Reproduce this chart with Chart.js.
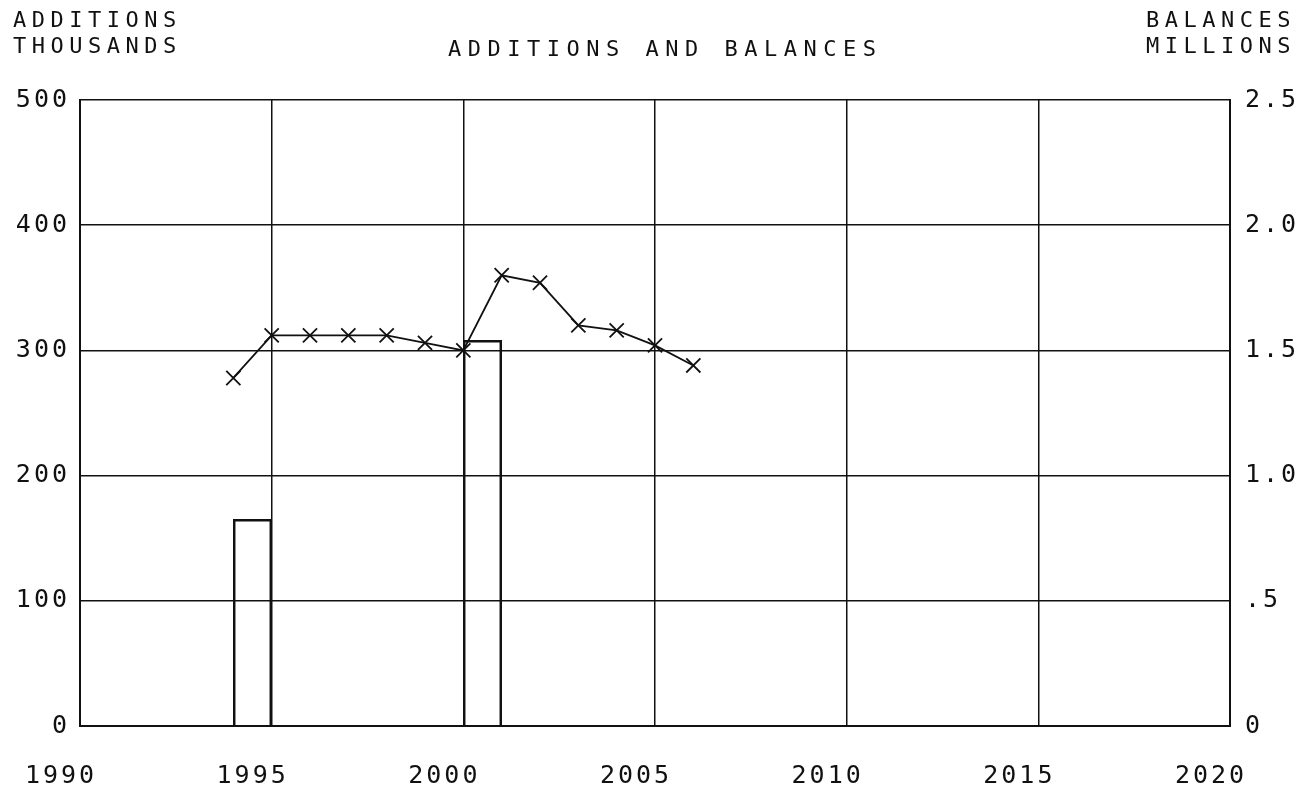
<!DOCTYPE html>
<html>
<head>
<meta charset="utf-8">
<script src="https://cdn.jsdelivr.net/npm/chart.js@4/dist/chart.umd.min.js"></script>
<style>
  html, body { margin: 0; padding: 0; background: #fff; }
  #wrap { width: 1298px; height: 789px; }
</style>
</head>
<body>
<div id="wrap"><canvas id="c" width="1298" height="789"></canvas></div>
<script>
// ---- data ----
const title = 'ADDITIONS AND BALANCES';
const leftAxisLabel = ['ADDITIONS', 'THOUSANDS'];
const rightAxisLabel = ['BALANCES', 'MILLIONS'];

const xMin = 1990, xMax = 2020, xStep = 5;
const leftTicks = [0, 100, 200, 300, 400, 500];
const rightTickLabels = ['0', '.5', '1.0', '1.5', '2.0', '2.5'];

// additions (thousands), one bar per year span [year, year+1]
const barYears = [1994, 2000];
const additions = [165, 308];

// balances (millions)
const lineYears = [1994, 1995, 1996, 1997, 1998, 1999, 2000, 2001, 2002, 2003, 2004, 2005, 2006];
const balances  = [1.39, 1.56, 1.56, 1.56, 1.56, 1.53, 1.50, 1.80, 1.77, 1.60, 1.58, 1.52, 1.44];

// ---- build library data ----
const barData = [];
for (let y = xMin; y < xMax; y++) {
  const i = barYears.indexOf(y);
  barData.push({ x: y + 0.5, y: i >= 0 ? additions[i] : null });
}
const lineData = lineYears.map((y, i) => ({ x: y, y: balances[i] }));

const INK = '#111';
const FONT = 'DejaVu Sans Mono';

const paperPlugin = {
  id: 'paper',
  beforeDraw(chart) {
    const ctx = chart.ctx;
    ctx.save();
    ctx.fillStyle = '#fff';
    ctx.fillRect(0, 0, chart.width, chart.height);
    ctx.restore();
    ctx.letterSpacing = '3px';
  },
  afterDraw(chart) {
    const ctx = chart.ctx;
    ctx.save();
    ctx.letterSpacing = '5.5px';
    ctx.fillStyle = INK;
    ctx.font = '22px "' + FONT + '"';
    ctx.textBaseline = 'middle';
    ctx.textAlign = 'left';
    ctx.fillText(leftAxisLabel[0], 13, 21);
    ctx.fillText(leftAxisLabel[1], 13, 47);
    ctx.fillText(rightAxisLabel[0], 1146, 21);
    ctx.fillText(rightAxisLabel[1], 1146, 47);
    ctx.letterSpacing = '6.5px';
    ctx.fillText(title, 448, 50);
    ctx.restore();
  }
};

const gridStyle = { color: INK, lineWidth: 1.5, drawTicks: false };

new Chart(document.getElementById('c'), {
  type: 'line',
  data: {
    datasets: [
      {
        type: 'line',
        label: 'Balances',
        data: lineData,
        yAxisID: 'y1',
        borderColor: INK,
        borderWidth: 1.8,
        pointStyle: 'crossRot',
        pointRadius: 10,
        pointBorderWidth: 1.8,
        pointBorderColor: INK,
        tension: 0,
        order: 0
      },
      {
        type: 'bar',
        label: 'Additions',
        data: barData,
        yAxisID: 'y',
        backgroundColor: 'rgba(255,255,255,0)',
        borderColor: INK,
        borderWidth: 1.8,
        borderSkipped: 'bottom',
        categoryPercentage: 1,
        barPercentage: 1,
        order: 1
      }
    ]
  },
  options: {
    responsive: false,
    animation: false,
    layout: { padding: { top: 100, left: 0, right: 0, bottom: 0 } },
    plugins: { legend: { display: false }, tooltip: { enabled: false }, title: { display: false } },
    scales: {
      x: {
        type: 'linear',
        min: xMin, max: xMax,
        offset: false,
        grid: Object.assign({}, gridStyle, { offset: false }),
        border: { color: INK, width: 2 },
        ticks: {
          stepSize: xStep,
          color: INK,
          font: { family: FONT, size: 25 },
          padding: 35,
          labelOffset: -19,
          maxRotation: 0,
          autoSkip: false,
          callback: v => String(v)
        },
        afterFit(s) { s.height = 63; }
      },
      y: {
        type: 'linear',
        position: 'left',
        min: leftTicks[0], max: leftTicks[leftTicks.length - 1],
        grid: gridStyle,
        border: { color: INK, width: 2 },
        afterBuildTicks(s) { s.ticks = leftTicks.map(v => ({ value: v })); },
        ticks: {
          color: INK,
          font: { family: FONT, size: 25 },
          padding: 10,
          callback: v => String(v)
        },
        afterFit(s) { s.width = 80; }
      },
      y1: {
        type: 'linear',
        position: 'right',
        min: 0, max: 2.5,
        grid: { display: false, drawOnChartArea: false, drawTicks: false },
        border: { color: INK, width: 2 },
        afterBuildTicks(s) { s.ticks = rightTickLabels.map((t, i) => ({ value: i * 0.5 })); },
        ticks: {
          color: INK,
          font: { family: FONT, size: 25 },
          padding: 15,
          callback: (v, i) => rightTickLabels[i]
        },
        afterFit(s) { s.width = 68; }
      }
    }
  },
  plugins: [paperPlugin]
});
</script>
</body>
</html>
